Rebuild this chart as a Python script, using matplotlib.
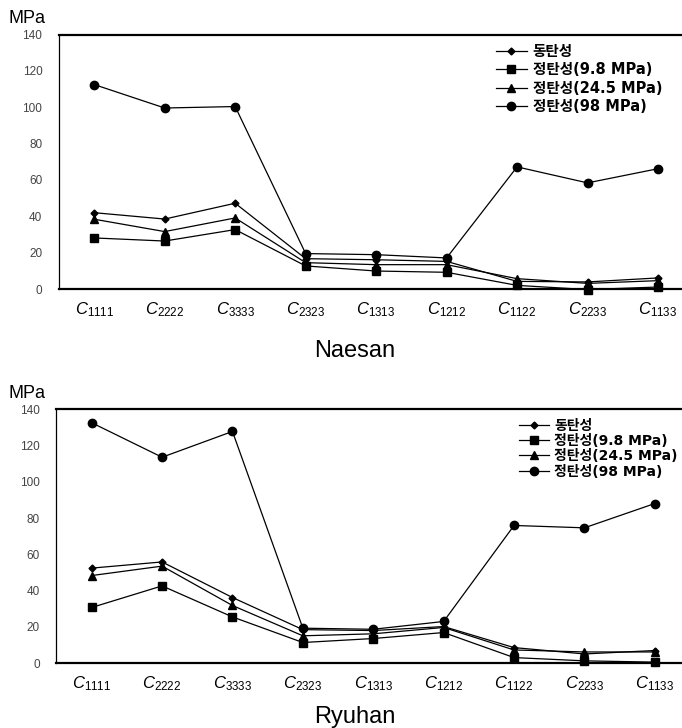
import matplotlib
matplotlib.use("Agg")
import matplotlib.pyplot as plt

# ==========================================================
# Componentes de rigidez elastica - Naesan / Ryuhan
# ==========================================================

categorias = ['1111', '2222', '3333', '2323', '1313', '1212', '1122', '2233', '1133']
legendas = ['동탄성', '정탄성(9.8 MPa)', '정탄성(24.5 MPa)', '정탄성(98 MPa)']

# Naesan
naesan_dinamico = [42.0, 38.5, 47.2, 16.7, 16.1, 15.2, 4.2, 3.9, 6.1]
naesan_98 = [28.1, 26.4, 32.7, 12.7, 9.9, 9.2, 2.0, -0.3, 1.1]
naesan_245 = [38.4, 31.6, 39.1, 14.5, 13.4, 13.4, 5.7, 3.1, 4.6]
naesan_980 = [112.5, 99.6, 100.4, 19.5, 18.9, 17.1, 67.2, 58.4, 66.2]

# Ryuhan
ryuhan_dinamico = [52.4, 55.8, 36.2, 18.5, 18.0, 20.2, 8.6, 5.1, 7.0]
ryuhan_98 = [30.7, 42.6, 25.5, 11.4, 13.6, 16.9, 3.1, 1.3, 0.6]
ryuhan_245 = [48.3, 53.5, 31.8, 15.1, 16.2, 19.7, 7.3, 6.2, 6.2]
ryuhan_980 = [132.5, 113.5, 127.7, 19.3, 18.7, 23.0, 75.9, 74.6, 88.0]

marcadores = ['D', 's', '^', 'o']
tamanhos = [3.5, 5.5, 5.5, 6]

plt.rcParams['font.family'] = ['Liberation Sans', 'Noto Sans CJK KR', 'DejaVu Sans']
plt.rcParams['mathtext.fontset'] = 'custom'
plt.rcParams['mathtext.rm'] = 'Liberation Sans'
plt.rcParams['mathtext.it'] = 'Liberation Sans:italic'

fig = plt.figure(figsize=(6.82, 7.28), dpi=100)

x = list(range(len(categorias)))
rotulos = [r'$C_{' + c + '}$' for c in categorias]


def desenha(pos, series, titulo, titulo_y, leg_pos, leg_esp, leg_tam, mpa_y):
    ax = fig.add_axes(pos)
    for serie, m, ms, nome in zip(series, marcadores, tamanhos, legendas):
        ax.plot(x, serie, color='black', linewidth=0.9, marker=m,
                markersize=ms, label=nome, clip_on=False)
    ax.set_xlim(-0.5, 8.5)
    ax.set_ylim(0, 140)
    ax.set_yticks(range(0, 141, 20))
    ax.set_xticks(x)
    ax.set_xticklabels(rotulos, fontsize=12)
    ax.tick_params(axis='y', length=0, pad=12, labelsize=8.5, labelcolor='#444444')
    ax.tick_params(axis='x', length=0, pad=8)
    for lado in ['top', 'bottom']:
        ax.spines[lado].set_linewidth(1.6)
    ax.spines['left'].set_linewidth(0.9)
    ax.legend(loc='upper left', bbox_to_anchor=leg_pos, frameon=False,
              handlelength=2.1, handletextpad=0.4, labelspacing=leg_esp,
              prop={'family': ['DejaVu Sans', 'Noto Sans CJK KR'],
                    'size': leg_tam, 'weight': 'bold'},
              borderaxespad=0)
    fig.text(0.52, titulo_y, titulo, fontsize=17, ha='center', va='baseline')
    fig.text(0.012, mpa_y, 'MPa', fontsize=13, va='center')
    return ax


desenha([0.0865, 0.603, 0.930, 0.3495],
        [naesan_dinamico, naesan_98, naesan_245, naesan_980],
        'Naesan', 1 - 357 / 728, (0.68, 0.985), 0.22, 10.5, 0.975)

desenha([0.0828, 0.089, 0.929, 0.349],
        [ryuhan_dinamico, ryuhan_98, ryuhan_245, ryuhan_980],
        'Ryuhan', 1 - 723 / 728, (0.722, 0.985), 0.1, 10, 0.46)

plt.savefig('out.png', dpi=100)
